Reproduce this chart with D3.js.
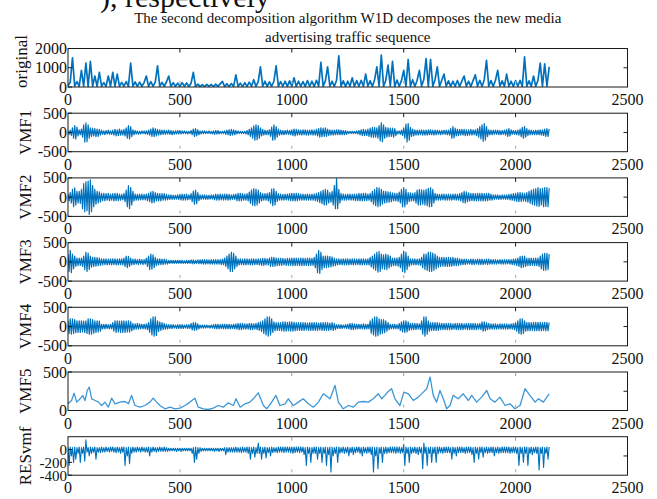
<!DOCTYPE html>
<html>
<head>
<meta charset="utf-8">
<script src="https://cdn.jsdelivr.net/npm/d3@7"></script>
<style>
  body { margin: 0; background: #fff; }
  svg { display: block; font-family: "Liberation Serif", "Times New Roman", serif; }
</style>
</head>
<body>
<svg id="chart" width="657" height="499"></svg>
<script>
// Sample spacing (in sample index units) of the stored series
const STEP_ORIGINAL = 10;
const STEP_MODES = 5;

const titleLines = [
  "The second decomposition algorithm W1D decomposes the new media",
  "advertising traffic sequence"
];
const captionFragment = "), respectively";

const xTickValues = [0, 500, 1000, 1500, 2000, 2500];

// Raw new media advertising traffic
const original = [
  60,250,1520,40,280, 30,860,40,1240,30, 1330,40,570,30,760, 40,230,30,570,40,
  760,30,670,30,240, 40,280,30,1240,40, 260,30,250,40,230, 570,30,280,40,250,
  1100,30,240,40,260, 570,30,220,40,200, 30,230,40,210,30, 200,760,20,150,20,
  120,20,140,30,130, 20,150,30,160,290, 20,170,30,180,20, 630,30,200,20,220,
  30,250,40,380,30, 280,1050,40,300,30, 260,40,300,1100,30, 280,40,300,30,320,
  40,480,30,300,40, 280,30,330,40,300, 30,350,40,1280,30, 320,1050,40,300,30,
  350,1620,40,320,30, 300,40,480,30,330, 40,350,30,670,40, 320,30,380,1050,40,
  1660,30,350,1140,40, 1330,30,360,40,330, 860,30,1430,40,380, 30,350,860,40,400,
  1470,30,1430,40,380, 1050,30,350,670,40, 320,30,300,40,340, 30,320,570,40,300,
  30,330,630,40,350, 30,380,1390,40,330, 30,350,860,40,320, 30,670,40,300,30,
  330,40,350,30,1560, 40,320,30,570,40, 350,1240,40,1200,40, 1050
];

const vmf1 = [
  30,-50,60,-80,120,-150,180,-170,140,-90,
  70,-60,90,-120,200,-250,250,-240,200,-150,
  120,-100,110,-90,100,-110,90,-100,80,-70,
  60,-50,40,-60,50,-40,60,-50,40,-50,
  60,-70,80,-90,70,-80,90,-70,60,-70,
  80,-90,120,-150,180,-170,150,-110,70,-60,
  50,-40,40,-50,30,-40,40,-30,40,-40,
  40,-50,60,-70,90,-100,120,-110,100,-90,
  80,-70,70,-60,60,-50,60,-50,50,-40,
  60,-50,50,-60,40,-50,40,-40,50,-40,
  50,-40,40,-30,40,-30,30,-40,30,-30,
  50,-60,90,-100,100,-90,70,-60,40,-40,
  40,-30,40,-30,30,-30,40,-30,30,-40,
  40,-50,50,-40,50,-40,30,-30,30,-30,
  40,-50,60,-60,70,-80,80,-70,70,-60,
  50,-40,40,-30,30,-30,30,-30,30,-40,
  50,-60,80,-100,120,-150,170,-200,200,-190,
  180,-150,120,-90,80,-70,60,-60,50,-60,
  70,-100,140,-200,200,-190,150,-120,90,-70,
  60,-60,50,-60,50,-50,60,-50,50,-60,
  70,-80,90,-90,80,-70,70,-60,60,-70,
  70,-60,70,-70,60,-70,60,-60,70,-70,
  60,-70,80,-90,100,-120,120,-110,110,-100,
  120,-100,90,-80,70,-70,60,-70,60,-60,
  70,-60,70,-60,60,-60,50,-60,50,-50,
  30,-30,30,-30,30,-30,30,-30,40,-40,
  50,-60,70,-80,80,-80,70,-80,90,-100,
  110,-120,130,-130,130,-120,120,-150,180,-220,
  250,-240,200,-150,130,-120,120,-110,110,-100,
  110,-120,100,-80,40,-40,40,-50,60,-80,
  120,-150,220,-250,230,-200,130,-100,90,-90,
  70,-70,60,-70,60,-60,70,-70,60,-70,
  60,-70,70,-60,70,-60,60,-70,60,-60,
  60,-50,50,-60,50,-50,60,-50,60,-60,
  60,-70,100,-150,150,-140,110,-90,80,-80,
  80,-70,80,-70,80,-80,70,-80,70,-70,
  80,-70,70,-60,70,-80,100,-120,150,-170,
  200,-230,230,-200,150,-110,70,-60,60,-60,
  60,-50,60,-50,60,-60,50,-60,50,-50,
  60,-70,80,-100,100,-90,70,-50,50,-50,
  50,-60,60,-70,90,-110,130,-150,150,-120,
  100,-80,70,-60,60,-60,50,-60,60,-60,
  60,-60,70,-70,70,-80,90,-100,100,-100,
  90
];

const vmf2 = [
  80,-100,120,-150,200,-250,240,-200,150,-150,
  150,-160,200,-300,350,-380,400,-350,420,-450,
  450,-380,300,-250,200,-180,150,-150,140,-130,
  100,-90,100,-100,90,-80,100,-90,80,-80,
  90,-100,100,-90,100,-90,80,-80,70,-70,
  100,-120,180,-250,300,-300,250,-200,150,-100,
  80,-80,70,-80,80,-70,80,-70,70,-70,
  80,-90,100,-120,140,-150,150,-140,120,-100,
  100,-100,90,-100,90,-80,90,-80,70,-70,
  60,-60,60,-60,50,-60,50,-50,60,-60,
  70,-80,80,-80,70,-80,80,-70,60,-60,
  90,-120,160,-180,180,-170,120,-90,60,-60,
  60,-50,60,-60,50,-60,50,-50,60,-50,
  60,-70,80,-80,70,-80,80,-70,70,-80,
  80,-70,80,-80,70,-70,60,-60,70,-60,
  80,-90,100,-100,100,-90,90,-80,80,-80,
  90,-100,130,-160,190,-210,220,-220,210,-200,
  180,-150,120,-100,90,-80,90,-80,100,-100,
  120,-160,210,-220,220,-200,150,-110,90,-80,
  80,-80,70,-80,80,-70,80,-80,90,-90,
  100,-100,100,-100,100,-90,90,-80,80,-80,
  80,-80,70,-80,80,-80,70,-80,80,-80,
  80,-90,100,-110,120,-140,150,-170,180,-200,
  200,-200,180,-150,120,-130,150,-200,300,-300,
  480,-300,200,-150,100,-80,80,-80,70,-80,
  80,-70,80,-80,70,-80,80,-90,80,-90,
  100,-100,90,-100,100,-90,100,-90,80,-80,
  100,-120,150,-180,200,-220,250,-250,240,-230,
  200,-180,160,-150,150,-140,140,-130,130,-120,
  110,-100,100,-100,100,-110,130,-150,200,-250,
  250,-250,200,-180,120,-120,110,-100,100,-100,
  120,-150,180,-200,200,-200,190,-180,180,-200,
  200,-220,230,-250,250,-240,200,-150,100,-80,
  80,-80,70,-80,80,-70,80,-80,70,-80,
  80,-80,70,-80,80,-70,80,-80,70,-80,
  90,-100,120,-140,150,-150,140,-120,110,-100,
  100,-90,100,-100,90,-100,100,-90,100,-100,
  100,-100,90,-100,100,-90,100,-80,80,-80,
  60,-60,60,-50,60,-60,50,-60,60,-50,
  60,-60,60,-60,70,-70,80,-80,90,-90,
  100,-110,120,-120,120,-110,110,-100,100,-110,
  120,-130,150,-160,180,-190,200,-210,220,-230,
  250,-240,220,-200,230,-250,250,-240,250,-250,
  230
];

const vmf3 = [
  200,-250,300,-280,200,-180,150,-120,100,-100,
  100,-90,100,-120,150,-200,250,-250,230,-200,
  150,-140,120,-120,120,-110,110,-100,100,-90,
  80,-80,80,-70,80,-80,70,-70,80,-80,
  80,-70,80,-80,70,-80,80,-70,80,-80,
  100,-120,150,-150,140,-120,100,-80,70,-70,
  70,-60,60,-70,70,-60,60,-70,60,-60,
  100,-120,150,-200,200,-190,180,-150,120,-100,
  80,-80,80,-70,70,-70,70,-60,60,-60,
  40,-40,40,-40,40,-40,40,-40,40,-40,
  40,-40,40,-40,30,-40,40,-40,40,-40,
  50,-50,50,-50,40,-40,50,-50,50,-50,
  60,-60,60,-60,60,-50,50,-60,60,-60,
  60,-60,60,-60,60,-60,60,-70,70,-70,
  100,-120,150,-180,200,-250,250,-250,220,-180,
  150,-120,80,-80,80,-70,70,-80,80,-80,
  80,-70,70,-80,80,-80,80,-70,70,-70,
  80,-80,80,-90,90,-90,90,-80,80,-80,
  100,-120,120,-120,120,-110,100,-100,90,-90,
  90,-90,90,-80,80,-90,90,-90,90,-90,
  100,-100,100,-100,100,-90,90,-100,100,-100,
  100,-100,90,-90,100,-100,100,-90,90,-90,
  120,-150,200,-280,300,-300,250,-200,150,-150,
  150,-150,150,-140,140,-130,130,-110,100,-100,
  80,-80,80,-70,70,-80,80,-80,80,-80,
  80,-80,70,-70,80,-80,80,-70,70,-70,
  80,-80,80,-80,80,-70,70,-80,80,-80,
  120,-130,150,-180,200,-220,250,-270,270,-250,
  200,-180,180,-190,200,-200,180,-160,150,-120,
  100,-100,100,-100,100,-110,120,-150,200,-250,
  280,-280,250,-200,150,-120,80,-80,80,-80,
  80,-80,70,-80,80,-90,120,-150,200,-200,
  200,-220,250,-250,250,-250,230,-220,200,-180,
  150,-140,120,-120,120,-110,120,-120,110,-120,
  120,-120,110,-110,120,-100,100,-100,100,-90,
  80,-80,70,-70,70,-70,70,-60,60,-60,
  70,-70,70,-70,60,-60,70,-70,70,-70,
  70,-70,60,-60,70,-70,70,-60,60,-60,
  60,-60,60,-60,50,-50,60,-60,60,-60,
  60,-60,60,-50,60,-60,60,-70,70,-80,
  80,-90,100,-120,140,-150,150,-140,150,-120,
  100,-100,100,-100,100,-90,90,-100,100,-100,
  100,-120,150,-180,200,-220,220,-220,220,-200,
  200
];

const vmf4 = [
  150,-180,200,-200,200,-180,180,-160,150,-150,
  150,-150,150,-140,140,-150,150,-180,200,-200,
  200,-200,180,-170,150,-150,150,-140,140,-120,
  60,-60,60,-60,60,-50,50,-60,60,-60,
  100,-120,150,-150,150,-140,140,-150,150,-150,
  150,-150,140,-140,150,-140,130,-110,80,-80,
  70,-70,80,-70,70,-60,60,-60,60,-60,
  70,-80,100,-150,200,-220,250,-250,250,-230,
  150,-130,120,-100,100,-80,80,-70,60,-60,
  50,-50,50,-50,50,-40,40,-50,50,-50,
  50,-50,50,-50,40,-40,50,-50,50,-50,
  80,-90,100,-100,100,-90,70,-60,40,-40,
  40,-40,40,-40,40,-30,30,-40,40,-40,
  50,-50,60,-60,60,-60,50,-50,60,-60,
  60,-60,60,-60,60,-60,50,-50,60,-60,
  70,-70,80,-80,80,-80,80,-70,70,-70,
  70,-70,80,-80,80,-80,70,-70,80,-80,
  100,-100,120,-130,150,-180,200,-220,250,-250,
  250,-220,200,-150,120,-110,100,-100,100,-100,
  100,-110,120,-120,120,-120,110,-110,120,-120,
  120,-120,110,-110,100,-100,100,-100,100,-100,
  100,-100,100,-90,90,-100,100,-100,100,-100,
  100,-100,100,-100,90,-90,100,-100,100,-100,
  100,-100,100,-100,90,-90,100,-100,80,-80,
  50,-50,50,-50,50,-50,40,-40,50,-50,
  60,-60,80,-80,80,-80,70,-70,60,-60,
  60,-60,60,-60,70,-70,60,-60,60,-60,
  150,-170,200,-220,250,-250,250,-240,200,-200,
  180,-180,180,-160,150,-120,100,-80,60,-60,
  60,-60,60,-60,50,-60,80,-100,120,-140,
  150,-150,150,-140,120,-100,80,-80,80,-80,
  80,-80,80,-70,70,-80,150,-200,250,-250,
  250,-200,150,-120,100,-100,100,-100,100,-100,
  100,-100,90,-80,80,-80,80,-80,80,-80,
  80,-80,80,-80,70,-70,80,-80,80,-80,
  80,-80,80,-80,70,-70,80,-80,80,-80,
  80,-80,80,-80,80,-80,70,-70,80,-80,
  120,-120,120,-110,100,-80,80,-70,70,-70,
  70,-70,70,-70,60,-60,70,-70,70,-70,
  70,-70,70,-70,60,-60,70,-70,80,-80,
  100,-120,150,-180,200,-200,200,-180,150,-120,
  110,-110,110,-110,100,-100,110,-110,110,-110,
  110,-110,110,-110,100,-100,110,-110,110,-110,
  100
];

// VMF5 is slow-varying: sample indices and values
const vmf5Index = [
  0,16,27,39,54,66,76,86,95,106,121,136,150,165,180,195,210,232,255,270,
  284,299,322,344,366,381,396,411,433,456,478,500,523,545,567,582,605,627,649,672,
  694,716,739,751,769,791,813,828,850,873,888,910,929,947,970,984,1007,1029,1051,1074,
  1096,1119,1141,1171,1193,1208,1230,1253,1275,1297,1320,1342,1364,1387,1402,1416,1431,1446,1461,1483,
  1501,1521,1543,1565,1588,1603,1618,1632,1647,1662,1677,1692,1707,1721,1744,1766,1789,1804,1826,1848,
  1871,1886,1908,1930,1953,1975,1997,2020,2042,2064,2087,2102,2124,2150
];
const vmf5 = [
  87,130,226,109,152,196,130,260,304,152,130,109,65,109,43,160,87,109,117,87,
  196,65,43,65,109,160,109,65,22,43,22,30,65,109,160,43,22,13,30,65,
  43,100,65,152,43,87,109,152,230,65,22,109,196,65,87,152,65,109,152,87,
  43,109,217,152,326,109,22,65,43,109,117,109,152,217,152,196,248,283,152,65,
  239,217,130,174,239,283,435,196,109,260,152,22,65,196,152,217,130,196,109,174,
  260,152,109,174,65,87,22,65,283,196,109,152,109,217
];

const resvmf = [
  30,-250,40,-100,30,-200,40,-150,30,-60,
  40,-200,30,-60,40,-180,150,-40,30,-100,
  40,-60,30,-40,40,-150,30,-40,30,-50,
  40,-40,30,-40,40,-30,30,-40,40,-30,
  40,-40,30,-50,40,-40,30,-60,40,-40,
  40,-250,30,-100,40,-220,30,-60,40,-40,
  30,-40,40,-30,30,-40,40,-30,30,-40,
  30,-40,40,-100,30,-40,40,-30,30,-40,
  30,-30,40,-30,30,-30,40,-30,30,-30,
  20,-20,20,-20,20,-20,20,-30,20,-20,
  20,-30,20,-20,20,-20,20,-20,20,-20,
  20,-60,30,-200,40,-150,30,-60,30,-30,
  20,-20,20,-20,20,-20,20,-20,20,-20,
  20,-30,20,-20,20,-30,20,-20,20,-20,
  30,-80,30,-40,30,-40,30,-40,30,-40,
  40,-40,30,-40,30,-50,40,-40,30,-40,
  40,-60,40,-150,30,-60,40,-120,30,-60,
  100,-60,40,-150,30,-60,40,-130,30,-50,
  30,-100,40,-50,30,-40,30,-50,40,-40,
  40,-40,40,-50,40,-40,40,-40,40,-50,
  40,-60,40,-50,40,-40,40,-50,40,-40,
  40,-80,30,-250,40,-60,30,-200,30,-60,
  40,-60,40,-150,30,-60,40,-200,30,-60,
  40,-250,30,-80,40,-350,40,-100,30,-60,
  40,-200,40,-60,30,-50,40,-60,30,-50,
  40,-100,30,-50,40,-80,30,-50,40,-40,
  40,-60,30,-100,40,-50,30,-60,40,-50,
  40,-80,40,-350,30,-100,40,-300,30,-60,
  40,-200,30,-60,40,-60,30,-50,40,-50,
  40,-50,40,-60,40,-50,40,-60,30,-50,
  80,-250,40,-60,30,-200,40,-60,30,-50,
  40,-60,30,-80,40,-50,30,-300,100,-60,
  40,-250,30,-60,40,-200,30,-60,40,-200,
  40,-60,40,-50,30,-60,40,-50,40,-50,
  40,-50,30,-150,40,-60,30,-100,40,-50,
  40,-50,40,-50,30,-60,40,-50,40,-50,
  40,-80,30,-200,40,-60,30,-150,40,-50,
  40,-120,30,-50,40,-60,30,-50,40,-50,
  40,-100,30,-50,40,-60,30,-50,40,-50,
  40,-50,40,-50,40,-60,30,-50,40,-50,
  40,-60,30,-250,40,-60,30,-200,40,-60,
  40,-250,30,-60,40,-80,30,-50,40,-60,
  40,-320,30,-60,40,-280,30,-60,40,-150,
  40
];

const labels = ["original", "VMF1", "VMF2", "VMF3", "VMF4", "VMF5", "RESvmf"];
const yDomains = [[0, 2000], [-500, 500], [-500, 500], [-500, 500], [-500, 500], [0, 500], [-400, 200]];
const yTicks = [[0, 1000, 2000], [-500, 0, 500], [-500, 0, 500], [-500, 0, 500], [-500, 0, 500], [0, 500], [-400, -200, 0]];

const toPoints = (arr, step) => arr.map((v, i) => [i * step, v]);
const seriesPoints = [
  toPoints(original, STEP_ORIGINAL),
  toPoints(vmf1, STEP_MODES), toPoints(vmf2, STEP_MODES),
  toPoints(vmf3, STEP_MODES), toPoints(vmf4, STEP_MODES),
  vmf5Index.map((t, i) => [t, vmf5[i]]),
  toPoints(resvmf, STEP_MODES)
];

const svg = d3.select("#chart");
const left = 68, right = 627.5;
const panelTop0 = 48.5, panelGap = 64.7, panelH = 38.5;
const blue = "#0072BD";

const x = d3.scaleLinear().domain([0, 2500]).range([left, right]);

// Soft rendering of the signal traces
svg.append("defs").append("filter").attr("id", "soft")
  .attr("x", "-5%").attr("y", "-20%").attr("width", "110%").attr("height", "140%")
  .append("feGaussianBlur").attr("stdDeviation", 0.45);

// Partially visible caption line above the figure
svg.append("text")
  .attr("x", 100).attr("y", 7)
  .attr("font-size", 30).attr("fill", "#111")
  .text(captionFragment);

// Title
titleLines.forEach((t, i) => {
  svg.append("text")
    .attr("x", (left + right) / 2).attr("y", 23 + i * 18.5)
    .attr("text-anchor", "middle").attr("font-size", 15).attr("fill", "#111")
    .text(t);
});

const strokeWidths = [1.7, 1.2, 1.2, 1.2, 1.2, 1.3, 1.1];

labels.forEach((name, p) => {
  const top = panelTop0 + p * panelGap;
  const bottom = top + panelH;
  const y = d3.scaleLinear().domain(yDomains[p]).range([bottom, top]);
  const g = svg.append("g");

  const clipId = "clip" + p;
  svg.append("clipPath").attr("id", clipId)
    .append("rect").attr("x", left).attr("y", top).attr("width", right - left).attr("height", panelH);

  const line = d3.line().x(d => x(d[0])).y(d => y(d[1]));
  const isSmooth = p === 5;
  g.append("g").attr("clip-path", `url(#${clipId})`)
    .append("path")
    .datum(seriesPoints[p])
    .attr("filter", "url(#soft)")
    .attr("fill", "none")
    .attr("stroke", isSmooth ? "#3d97d6" : blue)
    .attr("stroke-width", strokeWidths[p])
    .attr("stroke-linejoin", "round")
    .attr("d", line);

  // Frame
  g.append("rect")
    .attr("x", left).attr("y", top).attr("width", right - left).attr("height", panelH)
    .attr("fill", "none").attr("stroke", "#1a1a1a").attr("stroke-width", 1);

  // Inward x ticks along top (dark) and bottom (faint)
  const inner = xTickValues.slice(1, -1);
  g.selectAll(".tt").data(inner).join("line")
    .attr("x1", d => x(d)).attr("x2", d => x(d))
    .attr("y1", top).attr("y2", top + 4)
    .attr("stroke", p >= 5 ? "#999" : "#1a1a1a").attr("stroke-width", 1);
  g.selectAll(".bt").data(inner).join("line")
    .attr("x1", d => x(d)).attr("x2", d => x(d))
    .attr("y1", bottom - 6).attr("y2", bottom - 3)
    .attr("stroke", "#b5b5b5").attr("stroke-width", 1.2);

  // Right-side tick at mid range
  const mid = (yDomains[p][0] + yDomains[p][1]) / 2;
  g.append("line")
    .attr("x1", right - 4).attr("x2", right)
    .attr("y1", y(mid)).attr("y2", y(mid))
    .attr("stroke", "#1a1a1a");

  // Left y ticks + labels
  g.selectAll(".yt").data(yTicks[p]).join("line")
    .attr("x1", left).attr("x2", left + 4)
    .attr("y1", d => y(d)).attr("y2", d => y(d))
    .attr("stroke", "#1a1a1a");
  g.selectAll(".yl").data(yTicks[p]).join("text")
    .attr("x", left - 1).attr("y", d => y(d) + 5.5)
    .attr("text-anchor", "end").attr("font-size", p === 6 ? 15 : 16).attr("fill", "#111")
    .text(d => d);

  // X tick labels
  g.selectAll(".xl").data(xTickValues).join("text")
    .attr("x", d => x(d)).attr("y", bottom + 18)
    .attr("text-anchor", "middle").attr("font-size", 16).attr("fill", "#111")
    .text(d => d);

  // Panel label
  const cy = p === 0 ? top + 13 : (top + bottom) / 2;
  g.append("text")
    .attr("transform", `translate(${p === 0 ? 27 : 31},${cy}) rotate(-90)`)
    .attr("text-anchor", "middle").attr("font-size", 17).attr("fill", "#111")
    .text(name);
});
</script>
</body>
</html>
